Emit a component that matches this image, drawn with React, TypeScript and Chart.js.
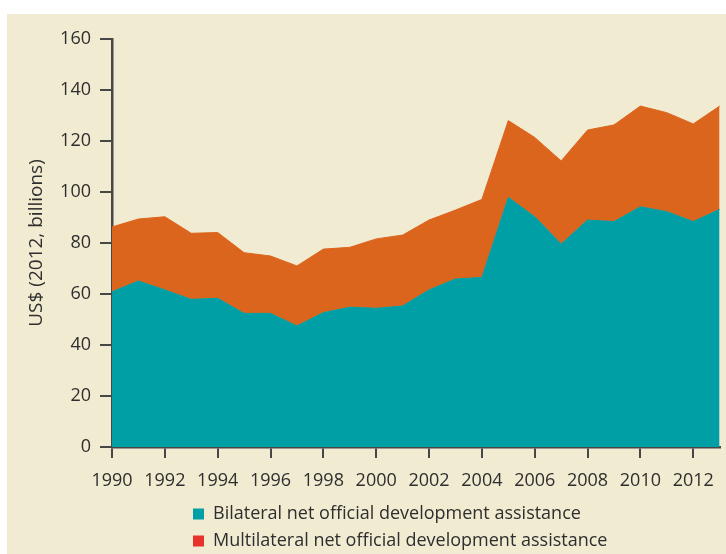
import { useEffect, useRef } from 'react';
import { Chart, registerables } from 'chart.js';

Chart.register(...registerables);

const years = ['1990', '1991', '1992', '1993', '1994', '1995', '1996', '1997', '1998', '1999', '2000', '2001', '2002', '2003', '2004', '2005', '2006', '2007', '2008', '2009', '2010', '2011', '2012', '2013'];
const bilateral = [60.9, 65.1, 61.6, 57.9, 58.3, 52.4, 52.4, 47.5, 52.7, 54.8, 54.4, 55.3, 61.6, 65.9, 66.5, 97.9, 90.3, 79.6, 89.0, 88.4, 94.2, 92.3, 88.4, 93.2];
const multilateral = [25.4, 24.3, 28.7, 25.9, 25.8, 23.8, 22.5, 23.5, 24.9, 23.5, 27.2, 27.8, 27.4, 27.0, 30.6, 30.1, 31.1, 32.6, 35.3, 37.9, 39.5, 38.8, 38.3, 40.5];
const seriesNames = ['Bilateral net official development assistance', 'Multilateral net official development assistance'];
const yMin = 0;
const yMax = 160;
const yStep = 20;
const yTitle = 'US$ (2012, billions)';

const TEAL = '#009fa5';
const ORANGE = '#dc651e';
const LEGEND_COLORS = ['#009fa5', '#e8332a'];
const BEIGE = '#f1ebd2';
const AXIS = '#474747';
const TEXT = '#2e2e2e';
const FONT = '"Open Sans", sans-serif';

export default function App() {
  const ref = useRef<HTMLCanvasElement>(null);
  useEffect(() => {
    const chart = new Chart(ref.current as HTMLCanvasElement, {
      type: 'line',
      data: {
        labels: years,
        datasets: [
          { label: seriesNames[0], data: bilateral, backgroundColor: TEAL, borderColor: TEAL, borderWidth: 1, fill: 'origin', pointRadius: 0, tension: 0 },
          { label: seriesNames[1], data: multilateral, backgroundColor: ORANGE, borderColor: ORANGE, borderWidth: 1, fill: '-1', pointRadius: 0, tension: 0 },
        ],
      },
      options: {
        animation: false,
        responsive: false,
        maintainAspectRatio: false,
        events: [],
        layout: { padding: { top: 25, right: 4, bottom: 0, left: 0 } },
        scales: {
          x: {
            type: 'category',
            offset: false,
            grid: { drawOnChartArea: false, drawTicks: true, tickLength: 11, color: AXIS, lineWidth: 2 },
            border: { display: true, color: AXIS, width: 2.5 },
            ticks: {
              autoSkip: false,
              maxRotation: 0,
              padding: 12,
              color: TEXT,
              font: { family: FONT, size: 18 },
              callback: function (this: any, v: any, i: number) {
                return i % 2 === 0 ? this.getLabelForValue(v) : null;
              },
            },
            afterFit: (s: any) => { s.height = 43; },
          },
          y: {
            stacked: true,
            min: yMin,
            max: yMax,
            grid: { drawOnChartArea: false, drawTicks: true, tickLength: 12, color: AXIS, lineWidth: 2 },
            border: { display: true, color: AXIS, width: 2.5 },
            ticks: { stepSize: yStep, padding: 9, color: TEXT, font: { family: FONT, size: 18 } },
            title: { display: true, text: yTitle, color: TEXT, font: { family: FONT, size: 19 }, padding: { top: 18, bottom: 0 } },
            afterFit: (s: any) => { s.width = 105; },
          },
        },
        plugins: {
          tooltip: { enabled: false },
          legend: {
            position: 'bottom',
            align: 'start',
            labels: {
              boxWidth: 11,
              boxHeight: 11,
              padding: 9,
              color: TEXT,
              font: { family: FONT, size: 18 },
              generateLabels: (c: any) =>
                Chart.defaults.plugins.legend.labels.generateLabels(c).map((l: any, i: number) => ({
                  ...l,
                  fillStyle: LEGEND_COLORS[i],
                  strokeStyle: LEGEND_COLORS[i],
                  lineWidth: 0,
                })),
            },
          },
        },
      },
      plugins: [
        {
          id: 'legendPos',
          afterLayout(c: any) {
            const lg = c.legend;
            if (lg) {
              lg.left = 177;
              lg.top = 482;
            }
          },
        },
      ],
    } as any);
    return () => chart.destroy();
  }, []);

  return (
    <div style={{ position: 'fixed', left: 0, top: 0, width: 726, height: 554, background: '#fff', overflow: 'hidden' }}>
      <canvas ref={ref} width={719} height={540} style={{ position: 'absolute', left: 7, top: 14, background: BEIGE }} />
    </div>
  );
}
